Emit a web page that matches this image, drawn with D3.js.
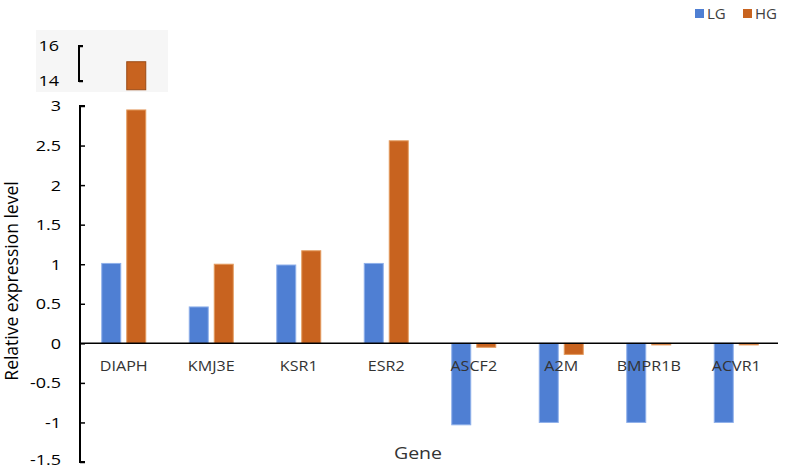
<!DOCTYPE html>
<html>
<head>
<meta charset="utf-8">
<script src="https://cdn.jsdelivr.net/npm/d3@7"></script>
<style>
  html, body { margin: 0; padding: 0; background: #fff; }
  svg { display: block; font-family: "Open Sans", "DejaVu Sans", sans-serif; }
</style>
</head>
<body>
<div id="chart"></div>
<script>
// ── Data ────────────────────────────────────────────────────────────────────
var genes    = ['DIAPH', 'KMJ3E', 'KSR1', 'ESR2', 'ASCF2', 'A2M', 'BMPR1B', 'ACVR1'];
var lgValues = [1.01, 0.46, 0.99, 1.01, -1.03, -1.0, -1.0, -1.0];
var hgValues = [15.1, 1.0, 1.17, 2.56, -0.05, -0.14, -0.02, -0.02];
var seriesNames = ['LG', 'HG'];
var yTicks      = [-1.5, -1, -0.5, 0, 0.5, 1, 1.5, 2, 2.5, 3];
var insetTicks  = [14, 16];

var COLORS = { LG: '#4f7fd3', HG: '#c8631f' };
var EDGE   = { LG: '#8fb0ea', HG: '#e39a5e' };

var W = 788, H = 470;
var svg = d3.select('#chart').append('svg').attr('width', W).attr('height', H);

// ── Scales ──────────────────────────────────────────────────────────────────
var x = d3.scaleBand().domain(genes).range([80, 780]);
var y = d3.scaleLinear().domain([-1.5, 3]).range([462, 106]);
var yIn = d3.scaleLinear().domain([14, 16]).range([81, 46]);
var yMax = 2.95; // bars above the break are clipped here

var barW = 20, gap = 5;
function barX(g, k) {
  var c = x(g) + x.bandwidth() / 2;
  return k === 0 ? c - gap / 2 - barW : c + gap / 2;
}

// text is a bit wide in the original picture
function wideText(sel, sx) {
  return sel.attr('transform', function() {
    var t = d3.select(this);
    return 'translate(' + t.attr('data-x') + ',' + t.attr('data-y') + ') scale(' + sx + ',1)';
  });
}

// ── Inset (broken axis top part) ────────────────────────────────────────────
svg.append('rect').attr('x', 36).attr('y', 30).attr('width', 132).attr('height', 62)
  .attr('fill', '#f6f6f6');

var series = [lgValues, hgValues];

// ── Bars ────────────────────────────────────────────────────────────────────
var barG = svg.append('g');
series.forEach(function(vals, k) {
  var name = seriesNames[k];
  barG.selectAll('rect.s' + k).data(genes).enter().append('rect')
    .attr('x', function(g) { return barX(g, k) + 0.5; })
    .attr('width', barW - 1)
    .attr('y', function(g, i) { var v = Math.min(vals[i], yMax); return v >= 0 ? y(v) : y(0); })
    .attr('height', function(g, i) { var v = Math.min(vals[i], yMax); return Math.max(1.5, Math.abs(y(v) - y(0))); })
    .attr('fill', COLORS[name])
    .attr('stroke', EDGE[name]).attr('stroke-width', 1);

  // part above the break
  barG.selectAll('rect.in' + k).data(genes.filter(function(g, i) { return vals[i] > 3; }))
    .enter().append('rect')
    .attr('x', function(g) { return barX(g, k) + 0.5; })
    .attr('width', barW - 1)
    .attr('y', function(g) { return yIn(vals[genes.indexOf(g)]); })
    .attr('height', function(g) { return yIn(13.5) - yIn(vals[genes.indexOf(g)]); })
    .attr('fill', COLORS[name])
    .attr('stroke', '#9a4a14').attr('stroke-width', 1);
});

// ── Axes ────────────────────────────────────────────────────────────────────
var axisG = svg.append('g').attr('transform', 'translate(80,0)');
axisG.call(d3.axisRight(y).tickValues(yTicks).tickSize(5).tickFormat(''));
axisG.select('.domain').attr('d', 'M5,106H0V462H5').attr('stroke', '#000').attr('stroke-width', 2);
axisG.selectAll('.tick line').attr('stroke', '#000').attr('stroke-width', 1.5);

var inG = svg.append('g').attr('transform', 'translate(79,0)');
inG.call(d3.axisRight(yIn).tickValues(insetTicks).tickSize(4).tickFormat(''));
inG.select('.domain').attr('d', 'M4,46H0V81H4').attr('stroke', '#000').attr('stroke-width', 2);
inG.selectAll('.tick line').attr('stroke', '#000').attr('stroke-width', 1.5);

// tick labels
svg.append('g').selectAll('text').data(yTicks).enter().append('text')
  .attr('data-x', 61).attr('data-y', function(d) { return Math.min(y(d), 459.5); }).attr('dy', '0.36em')
  .attr('text-anchor', 'end').attr('font-size', 15).attr('fill', '#000')
  .text(function(d) { return d; })
  .call(wideText, 1.2);
svg.append('g').selectAll('text').data(insetTicks).enter().append('text')
  .attr('data-x', 59).attr('data-y', function(d) { return yIn(d); }).attr('dy', '0.36em')
  .attr('text-anchor', 'end').attr('font-size', 15).attr('fill', '#000')
  .text(function(d) { return d; })
  .call(wideText, 1.2);

// zero line
svg.append('line').attr('x1', 80).attr('x2', 778).attr('y1', y(0)).attr('y2', y(0))
  .attr('stroke', '#000').attr('stroke-width', 1.5);

// category labels
svg.append('g').selectAll('text').data(genes).enter().append('text')
  .attr('data-x', function(g) { return x(g) + x.bandwidth() / 2; })
  .attr('data-y', 371).attr('text-anchor', 'middle').attr('font-size', 14).attr('fill', '#333')
  .text(function(g) { return g; })
  .call(wideText, 1.15);

// axis titles
svg.append('text').attr('transform', 'translate(18,281) rotate(-90)')
  .attr('text-anchor', 'middle').attr('font-size', 17.5).attr('fill', '#000')
  .text('Relative expression level');
svg.append('text').attr('data-x', 418).attr('data-y', 459).attr('text-anchor', 'middle')
  .attr('font-size', 17).attr('fill', '#333').text('Gene')
  .call(wideText, 1.15);

// ── Legend ──────────────────────────────────────────────────────────────────
var legX = [695, 743];
var leg = svg.append('g').selectAll('g').data(seriesNames).enter().append('g')
  .attr('transform', function(d, i) { return 'translate(' + legX[i] + ',9)'; });
leg.append('rect').attr('width', 9).attr('height', 9)
  .attr('fill', function(d) { return COLORS[d]; });
leg.append('text').attr('x', 12).attr('y', 4.5).attr('dy', '0.36em')
  .attr('font-size', 15).attr('fill', '#404040').text(function(d) { return d; });
</script>
</body>
</html>
